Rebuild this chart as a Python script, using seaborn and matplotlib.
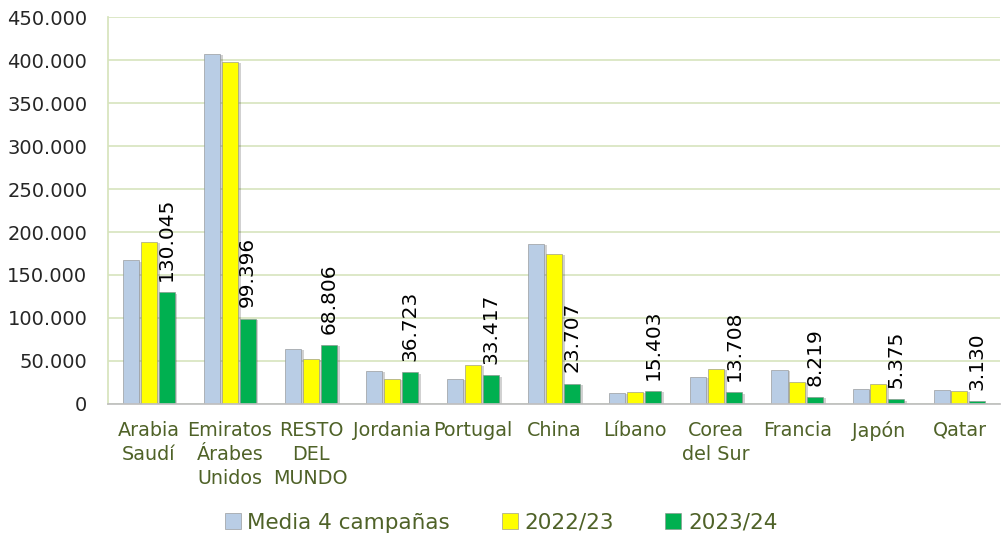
import numpy as np
import pandas as pd
import matplotlib
matplotlib.use("Agg")
import matplotlib.pyplot as plt
import seaborn as sns
from matplotlib.ticker import FuncFormatter, MultipleLocator
from matplotlib.patches import Patch
import matplotlib.patheffects as pe

categories = ["Arabia\nSaudí", "Emiratos\nÁrabes\nUnidos", "RESTO\nDEL\nMUNDO", "Jordania",
              "Portugal", "China", "Líbano", "Corea\ndel Sur", "Francia", "Japón", "Qatar"]
series_names = ["Media 4 campañas", "2022/23", "2023/24"]
media4 = [167000, 407000, 64000, 38500, 29000, 186000, 12800, 31400, 39500, 17400, 16300]
s2022 = [188400, 397700, 52300, 29000, 45300, 174400, 14000, 40700, 25600, 23300, 15100]
s2023 = [130045, 99396, 68806, 36723, 33417, 23707, 15403, 13708, 8219, 5375, 3130]
colors = ["#B9CDE5", "#FFFF00", "#00B050"]

df = pd.DataFrame({
    "cat": categories * 3,
    "serie": sum([[s] * len(categories) for s in series_names], []),
    "val": media4 + s2022 + s2023,
})

sns.set_theme(style="white")
plt.rcParams['font.family'] = ['DejaVu Sans']

fig = plt.figure(figsize=(10.02, 5.37), dpi=100)
ax = fig.add_axes([0.108, 0.2477, 0.89, 0.7206])

sns.barplot(data=df, x="cat", y="val", hue="serie", palette=colors, ax=ax,
            width=0.66, gap=0.1, legend=False, saturation=1,
            edgecolor="#8a8a8a", linewidth=0.4)

for cont in ax.containers:
    for b in cont:
        b.set_path_effects([pe.SimplePatchShadow(offset=(2, -1), shadow_rgbFace="#000000", alpha=0.18),
                            pe.Normal()])

ax.set_ylim(0, 450000)
ax.yaxis.set_major_locator(MultipleLocator(50000))
ax.yaxis.set_major_formatter(FuncFormatter(lambda v, p: f"{int(v):,}".replace(",", ".")))
ax.grid(axis="y", color="#D7E4BD", linewidth=1.2)
ax.set_axisbelow(True)
for s in ["top", "right"]:
    ax.spines[s].set_visible(False)
ax.spines["left"].set_color("#D7E4BD")
ax.spines["bottom"].set_color("#BFBFBF")
ax.set_xlabel("")
ax.set_ylabel("")
ax.tick_params(axis="y", labelsize=14, labelcolor="#262626", length=0, pad=15)
ax.tick_params(axis="x", labelsize=13.8, labelcolor="#4F6228", length=0, pad=12)
for t in ax.get_xticklabels():
    t.set_linespacing(1.35)

green = ax.containers[2]
ax.bar_label(green, labels=[f"{v:,}".replace(",", ".") for v in s2023],
             rotation=90, padding=8, fontsize=14.5, color="#000000")

handles = [Patch(facecolor=c, edgecolor="#8a8a8a", linewidth=0.4) for c in colors]
fig.legend(handles, series_names, loc="center", bbox_to_anchor=(0.5, 0.027), ncol=3,
           frameon=False, fontsize=15.5, labelcolor="#4F6228", handlelength=0.75,
           handleheight=0.75, handletextpad=0.3, columnspacing=2.4)

fig.savefig("out.png", dpi=100)
